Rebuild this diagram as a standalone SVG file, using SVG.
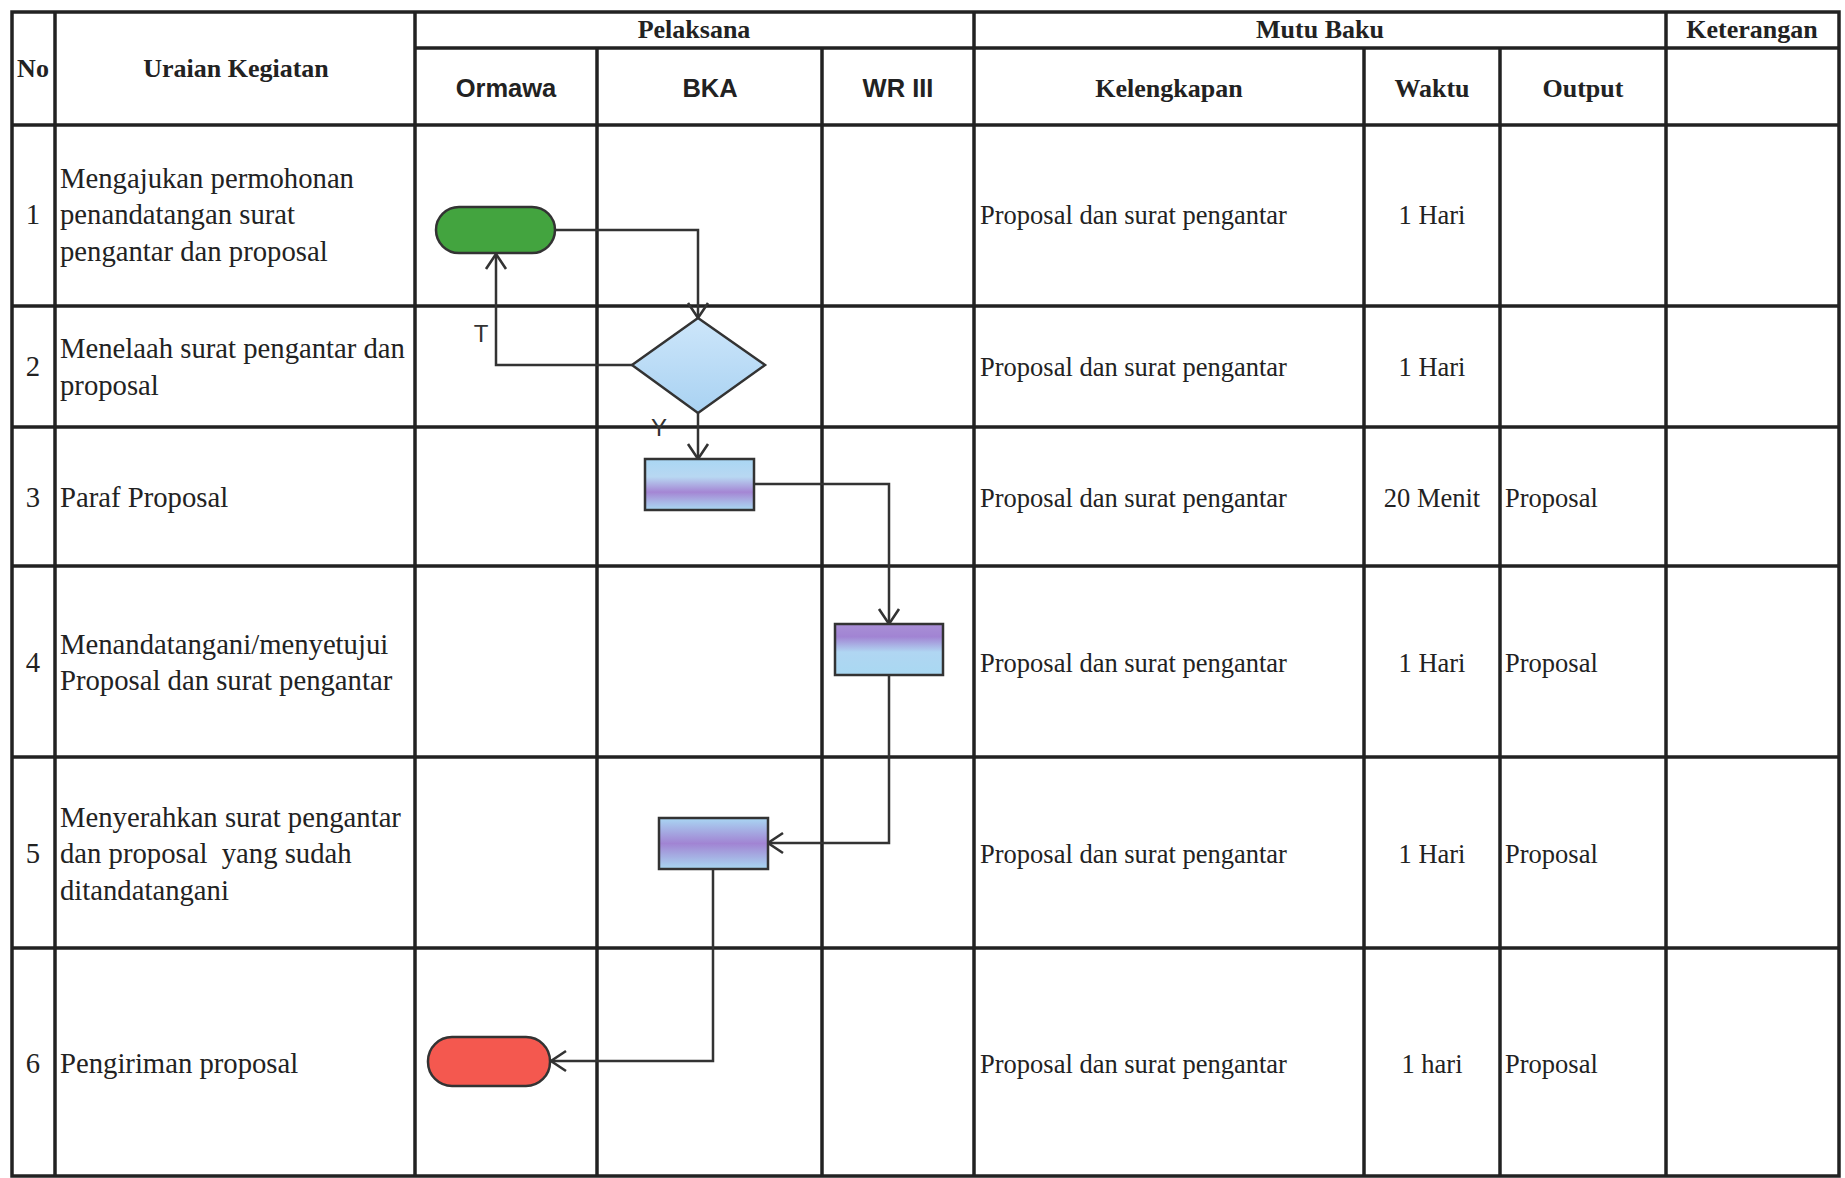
<svg xmlns="http://www.w3.org/2000/svg" width="1845" height="1178" viewBox="0 0 1845 1178">
<style>
.grid{stroke:#222;stroke-width:3.5;fill:none}
.conn{stroke:#333;stroke-width:2.5;fill:none}
.node{stroke:#333;stroke-width:2.5}
.hs{font-family:"Liberation Serif",serif;font-weight:bold;font-size:26px;fill:#222;text-anchor:middle}
.ha{font-family:"Liberation Sans",Arial,sans-serif;font-weight:bold;font-size:25.5px;fill:#222;text-anchor:middle}
.t{font-family:"Liberation Serif",serif;font-size:28.7px;fill:#222}
.tr{font-family:"Liberation Serif",serif;font-size:26.5px;fill:#222}
.c{text-anchor:middle}
.lbl{font-family:"Liberation Sans",Arial,sans-serif;font-size:24px;fill:#333;text-anchor:middle}
</style>
<defs>
<marker id="arr" markerUnits="userSpaceOnUse" markerWidth="24" markerHeight="26" refX="17" refY="12" orient="auto">
<path d="M2,2 L17,12 L2,22" fill="none" stroke="#333" stroke-width="2.6"/>
</marker>
<linearGradient id="gDia" x1="0" y1="0" x2="0" y2="1">
<stop offset="0" stop-color="#cde6fa"/><stop offset="1" stop-color="#a9d2f2"/>
</linearGradient>
<linearGradient id="gB3" x1="0" y1="0" x2="0" y2="1">
<stop offset="0" stop-color="#a9d6f3"/><stop offset="0.35" stop-color="#b8d8f2"/><stop offset="0.65" stop-color="#a486d4"/><stop offset="0.85" stop-color="#a9b8e6"/><stop offset="1" stop-color="#a9d8f2"/>
</linearGradient>
<linearGradient id="gB4" x1="0" y1="0" x2="0" y2="1">
<stop offset="0" stop-color="#a98fd6"/><stop offset="0.25" stop-color="#a184d3"/><stop offset="0.55" stop-color="#b0d6f2"/><stop offset="1" stop-color="#a9d8f2"/>
</linearGradient>
<linearGradient id="gB5" x1="0" y1="0" x2="0" y2="1">
<stop offset="0" stop-color="#a9d6f3"/><stop offset="0.5" stop-color="#a184d3"/><stop offset="1" stop-color="#a9d8f2"/>
</linearGradient>
</defs>
<rect width="1845" height="1178" fill="#fff"/>
<g id="table">
<rect class="grid" x="12" y="12" width="1827" height="1164"/>
<line class="grid" x1="415" y1="48" x2="1839" y2="48"/>
<line class="grid" x1="12" y1="125" x2="1839" y2="125"/>
<line class="grid" x1="12" y1="306" x2="1839" y2="306"/>
<line class="grid" x1="12" y1="427" x2="1839" y2="427"/>
<line class="grid" x1="12" y1="566" x2="1839" y2="566"/>
<line class="grid" x1="12" y1="757" x2="1839" y2="757"/>
<line class="grid" x1="12" y1="948" x2="1839" y2="948"/>
<line class="grid" x1="55" y1="12" x2="55" y2="1176"/>
<line class="grid" x1="415" y1="12" x2="415" y2="1176"/>
<line class="grid" x1="597" y1="48" x2="597" y2="1176"/>
<line class="grid" x1="822" y1="48" x2="822" y2="1176"/>
<line class="grid" x1="974" y1="12" x2="974" y2="1176"/>
<line class="grid" x1="1364" y1="48" x2="1364" y2="1176"/>
<line class="grid" x1="1500" y1="48" x2="1500" y2="1176"/>
<line class="grid" x1="1666" y1="12" x2="1666" y2="1176"/>
</g>
<g id="headers">
<text class="hs" x="33" y="77">No</text>
<text class="hs" x="236" y="77">Uraian Kegiatan</text>
<text class="hs" x="694" y="38">Pelaksana</text>
<text class="hs" x="1320" y="38">Mutu Baku</text>
<text class="hs" x="1752" y="38">Keterangan</text>
<text class="ha" x="506" y="97">Ormawa</text>
<text class="ha" x="710" y="97">BKA</text>
<text class="ha" x="898" y="97">WR III</text>
<text class="hs" x="1169" y="97">Kelengkapan</text>
<text class="hs" x="1432" y="97">Waktu</text>
<text class="hs" x="1583" y="97">Output</text>
</g>
<g id="rows">
<text class="t c" x="33" y="224">1</text>
<text class="t" x="60" y="188">Mengajukan permohonan</text>
<text class="t" x="60" y="224">penandatangan surat</text>
<text class="t" x="60" y="261">pengantar dan proposal</text>
<text class="t c" x="33" y="376">2</text>
<text class="t" x="60" y="358">Menelaah surat pengantar dan</text>
<text class="t" x="60" y="395">proposal</text>
<text class="t c" x="33" y="507">3</text>
<text class="t" x="60" y="507">Paraf Proposal</text>
<text class="t c" x="33" y="672">4</text>
<text class="t" x="60" y="654">Menandatangani/menyetujui</text>
<text class="t" x="60" y="690">Proposal dan surat pengantar</text>
<text class="t c" x="33" y="863">5</text>
<text class="t" x="60" y="827">Menyerahkan surat pengantar</text>
<text class="t" x="60" y="863" xml:space="preserve">dan proposal  yang sudah</text>
<text class="t" x="60" y="900">ditandatangani</text>
<text class="t c" x="33" y="1073">6</text>
<text class="t" x="60" y="1073">Pengiriman proposal</text>
<text class="tr" x="980" y="224">Proposal dan surat pengantar</text>
<text class="tr" x="980" y="376">Proposal dan surat pengantar</text>
<text class="tr" x="980" y="507">Proposal dan surat pengantar</text>
<text class="tr" x="980" y="672">Proposal dan surat pengantar</text>
<text class="tr" x="980" y="863">Proposal dan surat pengantar</text>
<text class="tr" x="980" y="1073">Proposal dan surat pengantar</text>
<text class="tr c" x="1432" y="224">1 Hari</text>
<text class="tr c" x="1432" y="376">1 Hari</text>
<text class="tr c" x="1432" y="507">20 Menit</text>
<text class="tr c" x="1432" y="672">1 Hari</text>
<text class="tr c" x="1432" y="863">1 Hari</text>
<text class="tr c" x="1432" y="1073">1 hari</text>
<text class="tr" x="1505" y="507">Proposal</text>
<text class="tr" x="1505" y="672">Proposal</text>
<text class="tr" x="1505" y="863">Proposal</text>
<text class="tr" x="1505" y="1073">Proposal</text>
</g>
<g id="connectors">
<path class="conn" d="M555,230 H698 V318" marker-end="url(#arr)"/>
<path class="conn" d="M632,365 H496 V254" marker-end="url(#arr)"/>
<path class="conn" d="M698,413 V459" marker-end="url(#arr)"/>
<path class="conn" d="M754,484 H889 V624" marker-end="url(#arr)"/>
<path class="conn" d="M889,675 V843 H768" marker-end="url(#arr)"/>
<path class="conn" d="M713,869 V1061 H551" marker-end="url(#arr)"/>
<text class="lbl" x="481" y="342">T</text>
<text class="lbl" x="659" y="436">Y</text>
</g>
<g id="start"><rect class="node" x="436" y="207" width="119" height="46" rx="23" fill="#43a43f"/></g>
<g id="decision"><polygon class="node" points="698,318 765,365 698,413 632,365" fill="url(#gDia)"/></g>
<g id="paraf"><rect class="node" x="645" y="459" width="109" height="51" fill="url(#gB3)"/></g>
<g id="tandatangan"><rect class="node" x="835" y="624" width="108" height="51" fill="url(#gB4)"/></g>
<g id="serahkan"><rect class="node" x="659" y="818" width="109" height="51" fill="url(#gB5)"/></g>
<g id="end"><rect class="node" x="428" y="1037" width="122" height="49" rx="24" fill="#f4584f"/></g>
</svg>
